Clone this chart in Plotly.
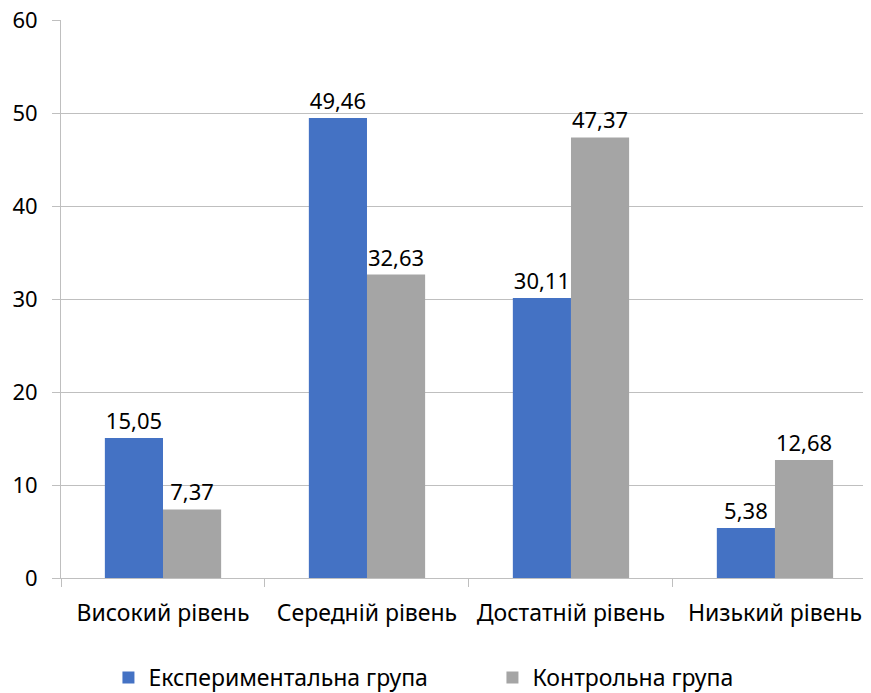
import plotly.graph_objects as go

categories = ["Високий рівень", "Середній рівень", "Достатній рівень", "Низький рівень"]
experimental = [15.05, 49.46, 30.11, 5.38]
control = [7.37, 32.63, 47.37, 12.68]
series_names = ["Експериментальна група", "Контрольна група"]
y_ticks = [0, 10, 20, 30, 40, 50, 60]

FONT = "'Noto Sans', 'Open Sans', sans-serif"
FS = 22

def fmt(v):
    return f"{v:.2f}".replace(".", ",")

fig = go.Figure()
fig.add_trace(go.Bar(x=categories, y=experimental, name=series_names[0],
                     marker=dict(color="#4472C4", line=dict(width=0)),
                     text=[fmt(v) for v in experimental], textposition="outside",
                     textfont=dict(size=FS, color="#000000", family=FONT),
                     cliponaxis=False))
fig.add_trace(go.Bar(x=categories, y=control, name=series_names[1],
                     marker=dict(color="#A5A5A5", line=dict(width=0)),
                     text=[fmt(v) for v in control], textposition="outside",
                     textfont=dict(size=FS, color="#000000", family=FONT),
                     cliponaxis=False))

fig.update_layout(
    width=871, height=693,
    margin=dict(l=53, r=0, t=12, b=123, autoexpand=False),
    paper_bgcolor="white", plot_bgcolor="white",
    barmode="group", bargap=0.43, bargroupgap=0,
    font=dict(family=FONT, size=FS, color="#000000"),
    showlegend=True,
    legend=dict(orientation="h", x=0.058, xanchor="left", y=0.034, yref="container",
                yanchor="middle", font=dict(size=23, family=FONT), entrywidth=339,
                itemwidth=30),
    xaxis=dict(range=[-0.5, 3.51], tickson="boundaries", ticks="outside", ticklen=8,
               tickcolor="#BFBFBF", showline=True, linecolor="#BFBFBF", linewidth=1,
               showgrid=False, ticklabelstandoff=14, tickfont=dict(size=23),
               automargin=False),
    yaxis=dict(range=[0, 60], tickvals=y_ticks, ticks="outside", ticklen=8,
               tickcolor="#BFBFBF", showline=True, linecolor="#BFBFBF", linewidth=1,
               showgrid=True, gridcolor="#BFBFBF", gridwidth=1, zeroline=False,
               ticklabelstandoff=10, ticklabeloverflow="allow", tickfont=dict(size=FS),
               automargin=False),
)

fig.write_html("out.html")
